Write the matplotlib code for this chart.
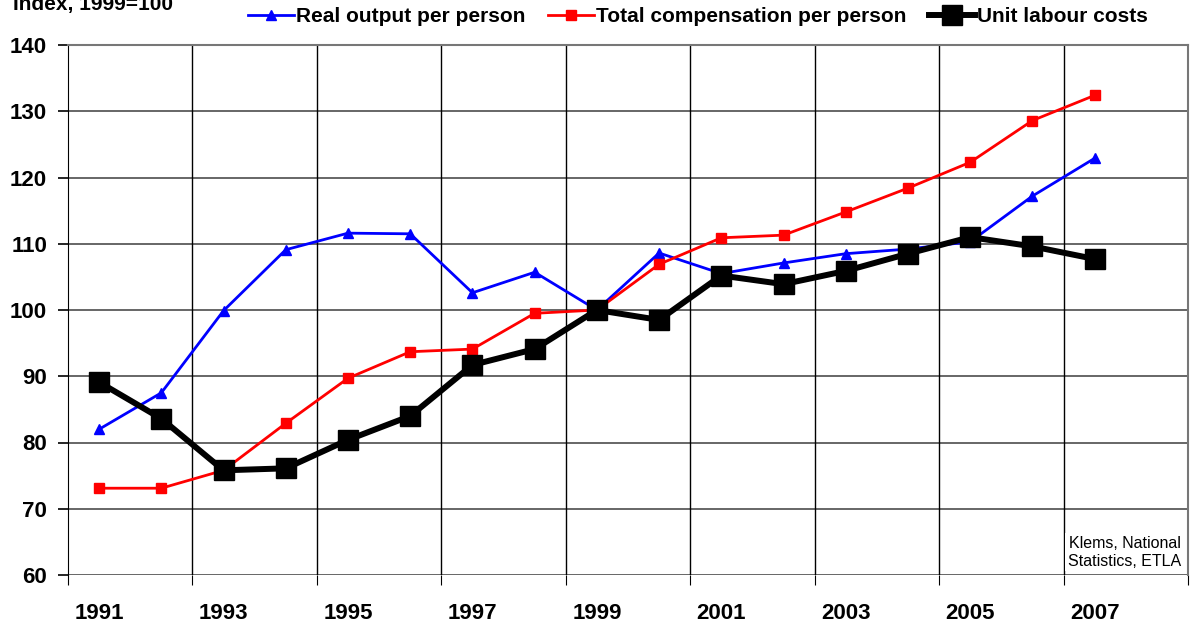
import matplotlib
matplotlib.use("Agg")
import matplotlib.pyplot as plt
import numpy as np

years = list(range(1991, 2008))
real_output = [82.0, 87.5, 99.9, 109.1, 111.6, 111.5, 102.6, 105.7, 100.0, 108.6,
               105.5, 107.1, 108.5, 109.2, 110.3, 117.2, 122.9]
compensation = [73.1, 73.1, 75.8, 82.9, 89.7, 93.7, 94.1, 99.5, 100.0, 106.9,
                110.9, 111.3, 114.8, 118.4, 122.3, 128.6, 132.4]
unit_labour = [89.1, 83.6, 75.8, 76.1, 80.4, 84.0, 91.7, 94.1, 100.0, 98.5,
               105.2, 103.9, 105.9, 108.5, 111.0, 109.6, 107.7]
tick_years = [str(y) for y in years[::2]]

plt.rcParams['font.family'] = ['Liberation Sans', 'DejaVu Sans']

fig = plt.figure(figsize=(11.91, 6.25), dpi=100)
ax = fig.add_axes([68/1191, 1-575/625, 1120/1191, 530/625])

x = np.arange(len(years))
ax.plot(x, real_output, color='#0000FF', lw=2, marker='^', ms=7, label='Real output per person', zorder=3)
ax.plot(x, compensation, color='#FF0000', lw=2, marker='s', ms=7, label='Total compensation per person', zorder=4)
ax.plot(x, unit_labour, color='black', lw=4.3, marker='s', ms=14.5, label='Unit labour costs', zorder=5)

ax.set_xlim(-0.5, len(years) + 0.5)
ax.set_ylim(60, 140)
ax.set_yticks(range(60, 141, 10))
ax.yaxis.grid(True, color='#5a5a5a', lw=1.3)
bounds = np.arange(-0.5, len(years) + 0.6, 2)
ax.set_xticks(bounds)
ax.set_xticklabels([])
ax.set_xticks(x[::2], minor=True)
ax.set_xticklabels(tick_years, minor=True, fontsize=16, fontweight='bold')
ax.tick_params(axis='x', which='minor', length=0, pad=20)
ax.tick_params(axis='x', which='major', length=7, direction='out', color='black')
ax.tick_params(axis='y', length=7, direction='out', labelsize=16, width=1.2, pad=8)
for lbl in ax.get_yticklabels():
    lbl.set_fontweight('bold')
for b in bounds[1:-1]:
    ax.axvline(b, color='black', lw=1, zorder=1)
ax.set_axisbelow(True)
for s in ['top', 'right']:
    ax.spines[s].set_color('#777777')
    ax.spines[s].set_linewidth(1.5)
ax.spines['left'].set_color('black')
ax.spines['bottom'].set_visible(False)

ax.text(0.994, 0.012, 'Klems, National\nStatistics, ETLA', transform=ax.transAxes,
        ha='right', va='bottom', fontsize=11.5, linespacing=1.25,
        bbox=dict(facecolor='white', edgecolor='none', pad=2), zorder=6)

fig.text(13/1191, 1-10/625, 'Index, 1999=100', fontsize=15, fontweight='bold', ha='left', va='baseline')

leg = fig.legend(loc='center', bbox_to_anchor=(698/1191, 1-17/625), ncol=3, frameon=False,
                 prop={'size': 15, 'weight': 'bold'}, handlelength=2.2, handletextpad=0.1,
                 columnspacing=1.1, borderaxespad=0)

fig.savefig('out.png', dpi=100)
